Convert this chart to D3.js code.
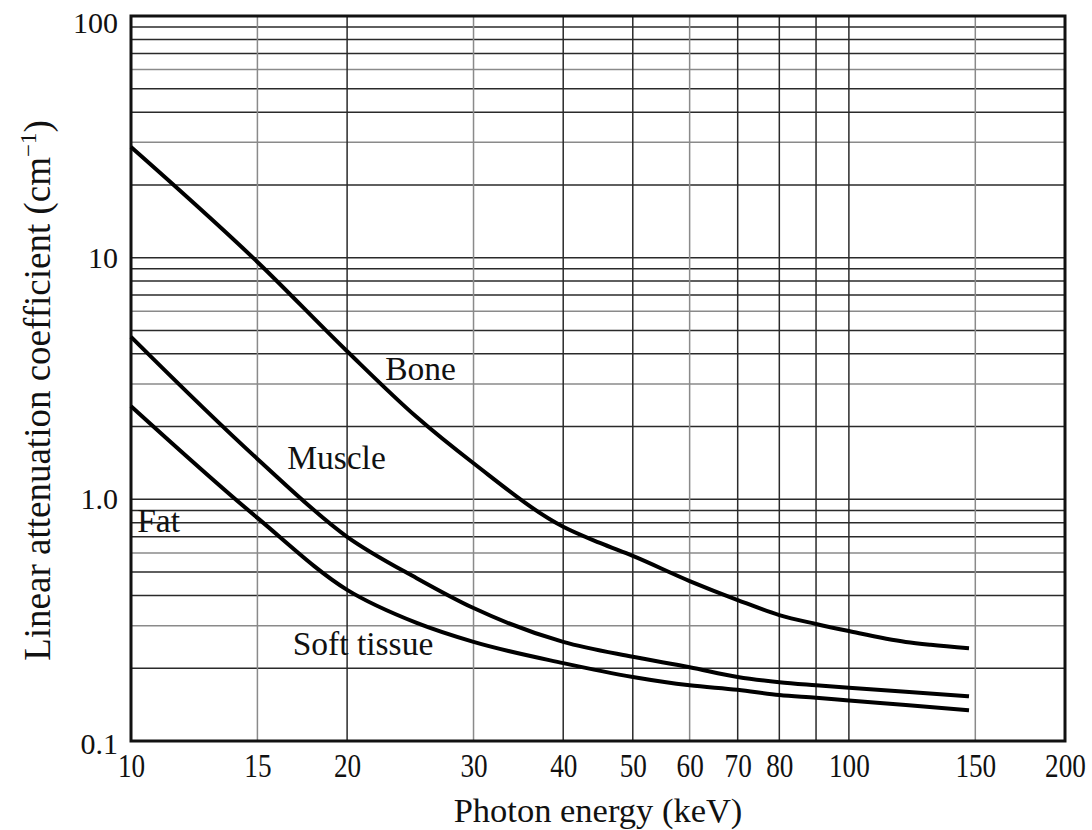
<!DOCTYPE html>
<html>
<head>
<meta charset="utf-8">
<script src="https://cdn.jsdelivr.net/npm/d3@7"></script>
<style>
  html, body { margin: 0; padding: 0; background: #fff; }
  svg { display: block; font-family: "Liberation Serif", "Times New Roman", serif; }
</style>
</head>
<body>
<svg id="chart" width="1092" height="830"></svg>
<script>
// ---- data ----
const boneEnergy   = [10, 15, 20, 25, 30, 40, 45, 50, 60, 70, 80, 90, 100, 120, 130, 147];
const boneValues   = [28.7, 9.6, 4.1, 2.19, 1.41, 0.77, 0.66, 0.583, 0.459, 0.383, 0.332, 0.305, 0.285, 0.257, 0.250, 0.242];

const muscleEnergy = [10, 15, 20, 25, 30, 40, 50, 60, 70, 80, 90, 100, 120, 147];
const muscleValues = [4.70, 1.47, 0.70, 0.472, 0.355, 0.257, 0.223, 0.202, 0.184, 0.175, 0.170, 0.166, 0.160, 0.153];

const fatEnergy    = [10, 15, 20, 25, 30, 40, 50, 60, 70, 80, 90, 100, 120, 147];
const fatValues    = [2.43, 0.838, 0.422, 0.308, 0.257, 0.210, 0.184, 0.170, 0.163, 0.155, 0.151, 0.147, 0.141, 0.134];

const xTickValues  = [10, 15, 20, 30, 40, 50, 60, 70, 80, 100, 150, 200];
const xGridValues  = [15, 20, 30, 40, 50, 60, 70, 80, 90, 100, 150];
const xGridLight   = [15, 30, 60, 150];
const yTickValues  = [0.1, 1, 10, 100];
const yTickLabels  = ["0.1", "1.0", "10", "100"];

const curveLabels  = [
  {text: "Bone",        E: 22.6, v: 3.12},
  {text: "Muscle",      E: 16.5, v: 1.33},
  {text: "Fat",         E: 10.2, v: 0.733},
  {text: "Soft tissue", E: 16.8, v: 0.227}
];

// ---- layout ----
const svg = d3.select("#chart");
const mLeft = 131, mRight = 1065, mTop = 16, mBottom = 741;
const serif = "'Liberation Serif', 'Times New Roman', serif";

const x = d3.scaleLog().domain([10, 200]).range([mLeft, mRight]);
const y = d3.scaleLog().domain([0.1, 100]).range([mBottom, mTop]);

// horizontal grid (every 1..9 multiple of each decade)
const yGrid = y.ticks().filter(v => v > 0.1 + 1e-9 && v < 100 - 1e-9);
svg.append("g").selectAll("line").data(yGrid).join("line")
  .attr("x1", mLeft).attr("x2", mRight)
  .attr("y1", d => y(d)).attr("y2", d => y(d))
  .attr("stroke", d => {
    const m = Math.round(d / Math.pow(10, Math.floor(Math.log10(d) + 1e-9)));
    return (m === 3 || m === 6) ? "#8a8a8a" : "#2a2a2a";
  })
  .attr("stroke-width", 1.5);

// vertical grid
svg.append("g").selectAll("line").data(xGridValues).join("line")
  .attr("x1", d => x(d)).attr("x2", d => x(d))
  .attr("y1", mTop).attr("y2", mBottom)
  .attr("stroke", d => xGridLight.includes(d) ? "#8a8a8a" : "#2a2a2a")
  .attr("stroke-width", 1.5);

// frame
svg.append("rect")
  .attr("x", mLeft).attr("y", mTop)
  .attr("width", mRight - mLeft).attr("height", mBottom - mTop)
  .attr("fill", "none").attr("stroke", "#111").attr("stroke-width", 3);

// axes (labels only)
const xAxis = d3.axisBottom(x).tickValues(xTickValues).tickSize(0).tickPadding(12)
  .tickFormat(d3.format("d"));
const gx = svg.append("g").attr("transform", `translate(0,${mBottom})`).call(xAxis);
gx.select(".domain").remove();
gx.selectAll("text").attr("font-size", 34).attr("fill", "#111")
  .attr("font-family", serif)
  .attr("transform", "scale(0.8,1)");

const yAxis = d3.axisLeft(y).tickValues(yTickValues).tickSize(0).tickPadding(13)
  .tickFormat((d, i) => yTickLabels[i]);
const gy = svg.append("g").attr("transform", `translate(${mLeft},0)`).call(yAxis);
gy.select(".domain").remove();
gy.selectAll("text").attr("font-size", 30).attr("fill", "#111")
  .attr("font-family", serif)
  .attr("dy", d => d === 100 ? "0.55em" : (d === 0.1 ? "0.42em" : "0.32em"));

// curves
const line = d3.line().x(d => x(d[0])).y(d => y(d[1])).curve(d3.curveMonotoneX);
const series = [
  d3.zip(boneEnergy, boneValues),
  d3.zip(muscleEnergy, muscleValues),
  d3.zip(fatEnergy, fatValues)
];
svg.append("g").selectAll("path").data(series).join("path")
  .attr("d", line)
  .attr("fill", "none").attr("stroke", "#000").attr("stroke-width", 4)
  .attr("stroke-linejoin", "round");

// curve labels
svg.append("g").selectAll("text").data(curveLabels).join("text")
  .attr("x", d => x(d.E)).attr("y", d => y(d.v))
  .attr("font-size", 33.5).attr("fill", "#111")
  .text(d => d.text);

// axis titles
svg.append("text")
  .attr("x", (mLeft + mRight) / 2).attr("y", 822)
  .attr("text-anchor", "middle").attr("font-size", 34.5).attr("fill", "#111")
  .text("Photon energy (keV)");

const yt = svg.append("text")
  .attr("transform", `translate(50,${(mTop + mBottom) / 2 + 12}) rotate(-90)`)
  .attr("text-anchor", "middle").attr("font-size", 37).attr("fill", "#111");
yt.append("tspan").text("Linear attenuation coefficient (cm");
yt.append("tspan").attr("dy", -14).attr("font-size", 23).text("−1");
yt.append("tspan").attr("dy", 14).text(")");
</script>
</body>
</html>
